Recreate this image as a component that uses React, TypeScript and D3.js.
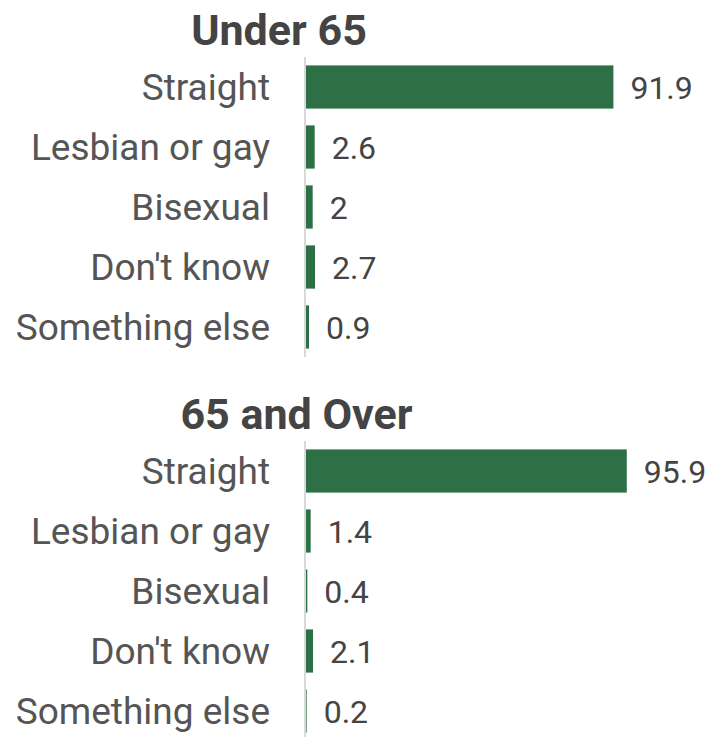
import React from "react";
import * as d3 from "d3";

const categories = ["Straight", "Lesbian or gay", "Bisexual", "Don't know", "Something else"];
const under65 = [91.9, 2.6, 2, 2.7, 0.9];
const over65 = [95.9, 1.4, 0.4, 2.1, 0.2];
const panelTitles = ["Under 65", "65 and Over"];

const W = 707;
const H = 737;
const axisX = 305;
const FONT = "Roboto, 'Noto Sans', sans-serif";
const GREEN = "#2e7046";

function Panel({ title, values, top, titleX }: { title: string; values: number[]; top: number; titleX: number }) {
  const x = d3.scaleLinear().domain([0, 100]).range([axisX + 1, axisX + 1 + 334.5]);
  const y = d3.scaleBand().domain(categories).range([top + 57, top + 357]).paddingInner(0.28).paddingOuter(0.14);
  const bw = y.bandwidth();
  return (
    <g>
      <text x={titleX} y={top + 30} textAnchor="middle" dominantBaseline="central" fontFamily={FONT} fontWeight={700} fontSize={43} fill="#444">
        {title}
      </text>
      {categories.map((c, i) => {
        const yc = (y(c) as number) + bw / 2;
        return (
          <g key={c}>
            <text x={270} y={yc} textAnchor="end" dominantBaseline="central" fontFamily={FONT} fontSize={37} fill="#555">
              {c}
            </text>
            <rect x={x(0)} y={y(c) as number} width={x(values[i]) - x(0)} height={bw} fill={GREEN} />
            <text x={x(values[i]) + 17} y={yc + 1} dominantBaseline="central" fontFamily={FONT} fontSize={32} fill="#444">
              {String(values[i])}
            </text>
          </g>
        );
      })}
      <line x1={axisX} x2={axisX} y1={top + 57} y2={top + 357} stroke="#ccc" strokeWidth={1.5} />
    </g>
  );
}

export default function App() {
  return (
    <svg width={W} height={H} style={{ display: "block", position: "absolute", left: 0, top: 0 }}>
      <rect width={W} height={H} fill="#fff" />
      <Panel title={panelTitles[0]} values={under65} top={0} titleX={279} />
      <Panel title={panelTitles[1]} values={over65} top={384} titleX={296.5} />
    </svg>
  );
}
